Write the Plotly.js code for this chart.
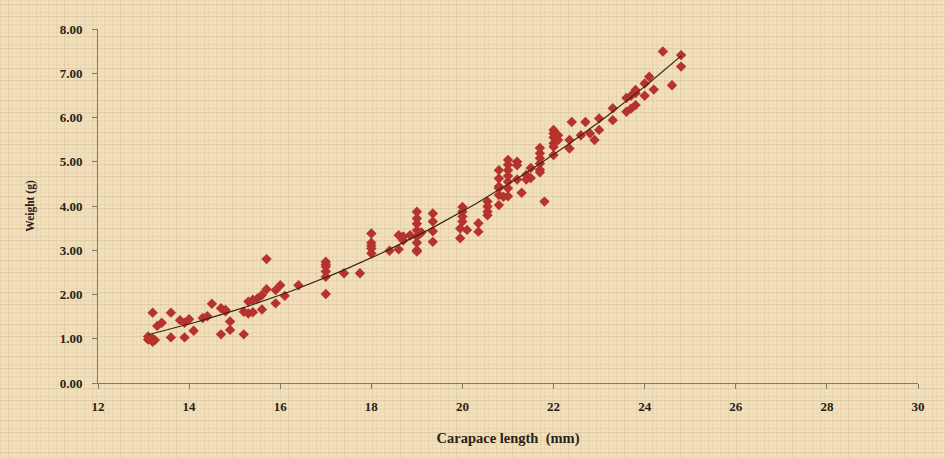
<!DOCTYPE html>
<html>
<head>
<meta charset="utf-8">
<script src="https://cdn.plot.ly/plotly-3.0.1.min.js"></script>
<style>
html,body{margin:0;padding:0;background:#f1deb6;}
#chart{width:945px;height:458px;}
</style>
</head>
<body>
<div id="chart"></div>
<script>
// Carapace length (mm) of each prawn
const carapaceLength = [
  13.1,13.1,13.2,13.2,13.2,13.25,13.3,13.4,13.6,13.6,
  13.8,13.9,13.9,14.0,14.1,14.3,14.4,14.5,14.7,14.7,
  14.8,14.8,14.9,14.9,15.2,15.2,15.3,15.3,15.4,15.4,
  15.5,15.6,15.6,15.7,15.7,15.9,15.9,16.0,16.1,16.4,
  17.0,17.0,17.0,17.0,17.0,17.0,17.4,17.75,
  18.0,18.0,18.0,18.0,18.0,18.4,18.6,18.6,18.7,18.7,18.85,
  19.0,19.0,19.0,19.0,19.0,19.0,19.0,19.0,19.1,
  19.35,19.35,19.35,19.35,19.95,19.95,20.0,20.0,20.0,20.0,20.1,
  20.35,20.35,20.55,20.55,20.55,20.55,
  20.8,20.8,20.8,20.8,20.8,20.8,20.9,
  21.0,21.0,21.0,21.0,21.0,21.0,21.0,
  21.2,21.2,21.2,21.3,21.4,21.4,21.5,21.5,
  21.7,21.7,21.7,21.7,21.7,21.7,21.8,
  22.0,22.0,22.0,22.0,22.0,22.0,22.1,22.1,
  22.35,22.35,22.4,22.6,22.7,22.8,22.9,23.0,23.0,
  23.3,23.3,23.6,23.6,23.7,23.7,23.8,23.8,23.8,
  24.0,24.0,24.1,24.2,24.4,24.6,24.8,24.8
];
// Body weight (g) of each prawn
const bodyWeight = [
  1.05,0.98,1.00,0.93,1.59,0.97,1.29,1.36,1.59,1.03,
  1.42,1.03,1.36,1.44,1.18,1.47,1.51,1.79,1.69,1.10,
  1.62,1.65,1.39,1.20,1.10,1.61,1.57,1.84,1.60,1.88,
  1.91,1.99,1.66,2.12,2.80,2.10,1.80,2.21,1.97,2.21,
  2.74,2.63,2.52,2.40,2.01,2.68,2.48,2.48,
  3.38,3.17,3.04,2.93,3.10,2.99,3.02,3.34,3.31,3.22,3.34,
  3.87,3.72,3.60,3.45,3.31,3.17,3.00,2.97,3.40,
  3.83,3.65,3.43,3.19,3.27,3.49,3.98,3.87,3.76,3.65,3.46,
  3.61,3.42,4.10,3.99,3.87,3.79,
  4.81,4.62,4.44,4.40,4.25,4.02,4.21,
  5.04,4.93,4.81,4.68,4.55,4.40,4.22,
  5.00,4.92,4.60,4.30,4.70,4.60,4.63,4.86,
  5.31,5.19,5.08,4.96,4.82,4.76,4.10,
  5.72,5.64,5.55,5.42,5.34,5.15,5.60,5.49,
  5.49,5.30,5.90,5.60,5.90,5.64,5.49,5.98,5.72,
  6.21,5.94,6.13,6.44,6.20,6.49,6.28,6.55,6.62,
  6.49,6.77,6.92,6.63,7.49,6.73,7.41,7.15
];
const xTickValues = [12,14,16,18,20,22,24,26,28,30];
const yTickValues = [0,1,2,3,4,5,6,7,8];

// Power trend line W = a * L^b fitted by least squares in log-log space
const n = carapaceLength.length;
let sx=0, sy=0, sxx=0, sxy=0;
for (let i=0;i<n;i++){
  const lx=Math.log(carapaceLength[i]), ly=Math.log(bodyWeight[i]);
  sx+=lx; sy+=ly; sxx+=lx*lx; sxy+=lx*ly;
}
const b=(n*sxy-sx*sy)/(n*sxx-sx*sx);
const a=Math.exp((sy-b*sx)/n);
const xmin=Math.min(...carapaceLength), xmax=Math.max(...carapaceLength);
const trendX=[], trendY=[];
for (let i=0;i<=80;i++){
  const L=xmin+(xmax-xmin)*i/80;
  trendX.push(L); trendY.push(a*Math.pow(L,b));
}

// burlap-like texture (pure styling)
let svg='<svg xmlns="http://www.w3.org/2000/svg" width="945" height="458">';
svg+='<rect width="945" height="458" fill="#f3e1bc"/>';
for (let x=0;x<945;x+=4){
  const op=[0.16,0.07,0.22,0.1,0.04,0.18,0.09][ (x/4)%7 ];
  svg+='<rect x="'+x+'" y="0" width="1.3" height="458" fill="#b59c76" fill-opacity="'+op+'"/>';
}
for (let y=0;y<458;y+=4){
  const op=[0.09,0.2,0.05,0.14,0.24,0.07,0.12,0.04][ (y/4)%8 ];
  svg+='<rect x="0" y="'+y+'" width="945" height="1.3" fill="#b59c76" fill-opacity="'+op+'"/>';
}
svg+='</svg>';
const texture='data:image/svg+xml;base64,'+btoa(svg);

const font={family:'"Liberation Serif","Times New Roman",serif',color:'#2b2118'};

const traces=[
  {x:carapaceLength,y:bodyWeight,type:'scatter',mode:'markers',
   marker:{symbol:'diamond',size:8,color:'#b5332c',line:{width:0}},
   hoverinfo:'x+y',showlegend:false},
  {x:trendX,y:trendY,type:'scatter',mode:'lines',
   line:{color:'#3a2519',width:1.2},hoverinfo:'skip',showlegend:false}
];

const layout={
  width:945,height:458,
  margin:{l:98,r:27,t:29,b:75},
  paper_bgcolor:'#f1deb6',plot_bgcolor:'rgba(0,0,0,0)',
  font:font,
  images:[{source:texture,xref:'paper',yref:'paper',x:-98/820,y:1+29/354,
    sizex:945/820,sizey:458/354,sizing:'stretch',layer:'below',xanchor:'left',yanchor:'top'}],
  xaxis:{range:[12,30],tickvals:xTickValues,ticktext:xTickValues.map(String),
    showgrid:false,zeroline:false,showline:true,linecolor:'#857868',linewidth:1,
    ticks:'outside',ticklen:5,tickcolor:'#857868',ticklabelstandoff:6,
    tickfont:{family:font.family,size:13,color:'#2b2118',weight:'bold'},
    title:{text:'<b>Carapace length  (mm)</b>',font:{family:font.family,size:14.5,color:'#2b2118'},standoff:20}},
  yaxis:{range:[0,8],tickvals:yTickValues,ticktext:yTickValues.map(v=>v.toFixed(2)),
    showgrid:false,zeroline:false,showline:true,linecolor:'#857868',linewidth:1,
    ticks:'outside',ticklen:5,tickcolor:'#857868',ticklabelstandoff:7,
    tickfont:{family:font.family,size:13,color:'#2b2118',weight:'bold'},
    title:{text:'<b>Weight (g)</b>',font:{family:font.family,size:11.5,color:'#2b2118'},standoff:22}}
};

Plotly.newPlot('chart',traces,layout,{displayModeBar:false,staticPlot:true});
</script>
</body>
</html>
